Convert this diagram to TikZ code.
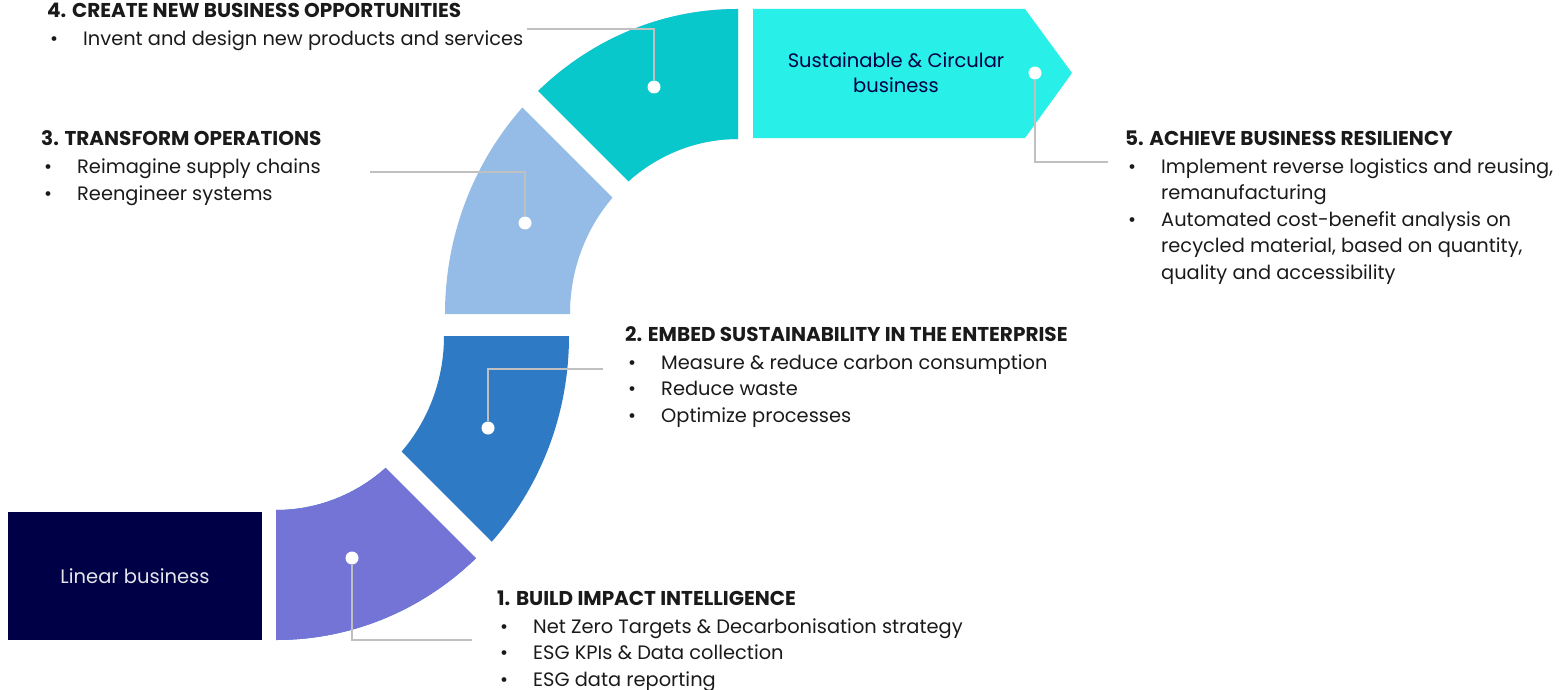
\documentclass[tikz,border=0pt]{standalone}
\usepackage{fontspec}
\setmainfont{Poppins}
\definecolor{navy}{HTML}{000046}
\definecolor{segA}{HTML}{7474D6}
\definecolor{segB}{HTML}{2E7AC4}
\definecolor{segC}{HTML}{94BCE6}
\definecolor{segD}{HTML}{08C8CC}
\definecolor{segE}{HTML}{28F0E8}
\definecolor{conn}{HTML}{C0C0C0}
\definecolor{ink}{HTML}{1A1A1A}
\newcommand{\mybul}[1]{\hspace*{3pt}\makebox[33pt][l]{\textbullet}#1}
\newcommand{\mycont}[1]{\hspace*{36pt}#1}
\newcommand{\mytitle}[1]{{\fontsize{20}{26.5}\selectfont\bfseries #1}}
\begin{document}
\begin{tikzpicture}[x=1pt,y=1pt,
  dot/.style={circle,fill=white,inner sep=0pt,minimum size=13pt},
  link/.style={draw=conn,line width=1.1pt},
  txt/.style={anchor=base west,inner sep=0pt,text=ink,align=left,
    font=\fontsize{19.4}{26.5}\selectfont},
  boxtxt/.style={font=\fontsize{19.5}{25}\selectfont,align=center},
  gap/.style={draw=white,line width=22.5pt}
]
\useasboundingbox (0,0) rectangle (1565,-690);
% lower arc (segments 1 and 2)
\fill[segB] (276,-640) arc[start angle=270,end angle=360,x radius=293,y radius=304]
  -- (444,-336) arc[start angle=0,end angle=-90,x radius=168,y radius=174] -- cycle;
\begin{scope}
\clip (200,-282) -- (700,-782) -- (0,-782) -- (0,-282) -- cycle;
\fill[segA] (276,-640) arc[start angle=270,end angle=360,x radius=293,y radius=304]
  -- (444,-336) arc[start angle=0,end angle=-90,x radius=168,y radius=174] -- cycle;
\end{scope}
\draw[gap] (270,-336) -- (530,-596);
% upper arc (segments 3 and 4)
\fill[segC] (738,-9) arc[start angle=90,end angle=180,x radius=293,y radius=305]
  -- (570,-314) arc[start angle=180,end angle=90,x radius=168,y radius=175] -- cycle;
\begin{scope}
\clip (431,0) -- (900,0) -- (900,-469) -- cycle;
\fill[segD] (738,-9) arc[start angle=90,end angle=180,x radius=293,y radius=305]
  -- (570,-314) arc[start angle=180,end angle=90,x radius=168,y radius=175] -- cycle;
\end{scope}
\draw[gap] (745,-314) -- (485,-54);
% end boxes
\node[fill=navy,minimum width=254pt,minimum height=128pt,inner sep=0pt] (lin) at (135,-576) {};
\node[boxtxt,text=white!90!navy] (lintxt) at (lin.center) {Linear business};
\fill[segE] (753,-9) -- (1025,-9) -- (1072,-73) -- (1025,-138) -- (753,-138) -- cycle;
\node[boxtxt,text=navy] (circ) at (896,-73) {Sustainable \& Circular\\business};
% connectors
\node[dot] (d1) at (352,-558) {};
\node[dot] (d2) at (488,-428) {};
\node[dot] (d3) at (525,-223) {};
\node[dot] (d4) at (654,-87) {};
\node[dot] (d5) at (1035,-73) {};
\coordinate (e1) at (472,-640);
\coordinate (e2) at (603,-369);
\coordinate (e3) at (370,-172);
\coordinate (e4) at (527,-29);
\coordinate (e5) at (1108,-162);
\draw[link] (d1) |- (e1);
\draw[link] (d2) |- (e2);
\draw[link] (d3) |- (e3);
\draw[link] (d4) |- (e4);
\draw[link] (d5) |- (e5);
% texts (anchor = baseline of last line)
\node[txt] (t1) at (497,-686) {\mytitle{1. BUILD IMPACT INTELLIGENCE}\\[1.5pt]
  \mybul{Net Zero Targets \& Decarbonisation strategy}\\
  \mybul{ESG KPIs \& Data collection}\\
  \mybul{ESG data reporting}};
\node[txt] (t2) at (625,-422) {\mytitle{2. EMBED SUSTAINABILITY IN THE ENTERPRISE}\\[1.5pt]
  \mybul{Measure \& reduce carbon consumption}\\
  \mybul{Reduce waste}\\
  \mybul{Optimize processes}};
\node[txt] (t3) at (41,-200) {\mytitle{3. TRANSFORM OPERATIONS}\\[1.5pt]
  \mybul{Reimagine supply chains}\\
  \mybul{Reengineer systems}};
\node[txt] (t4) at (47,-46) {\mytitle{4. CREATE NEW BUSINESS OPPORTUNITIES}\\[1.5pt]
  \mybul{Invent and design new products and services}};
\node[txt] (t5) at (1125,-279) {\mytitle{5. ACHIEVE BUSINESS RESILIENCY}\\[1.5pt]
  \mybul{Implement reverse logistics and reusing,}\\
  \mycont{remanufacturing}\\
  \mybul{Automated cost-benefit analysis on}\\
  \mycont{recycled material, based on quantity,}\\
  \mycont{quality and accessibility}};
\end{tikzpicture}
\end{document}
